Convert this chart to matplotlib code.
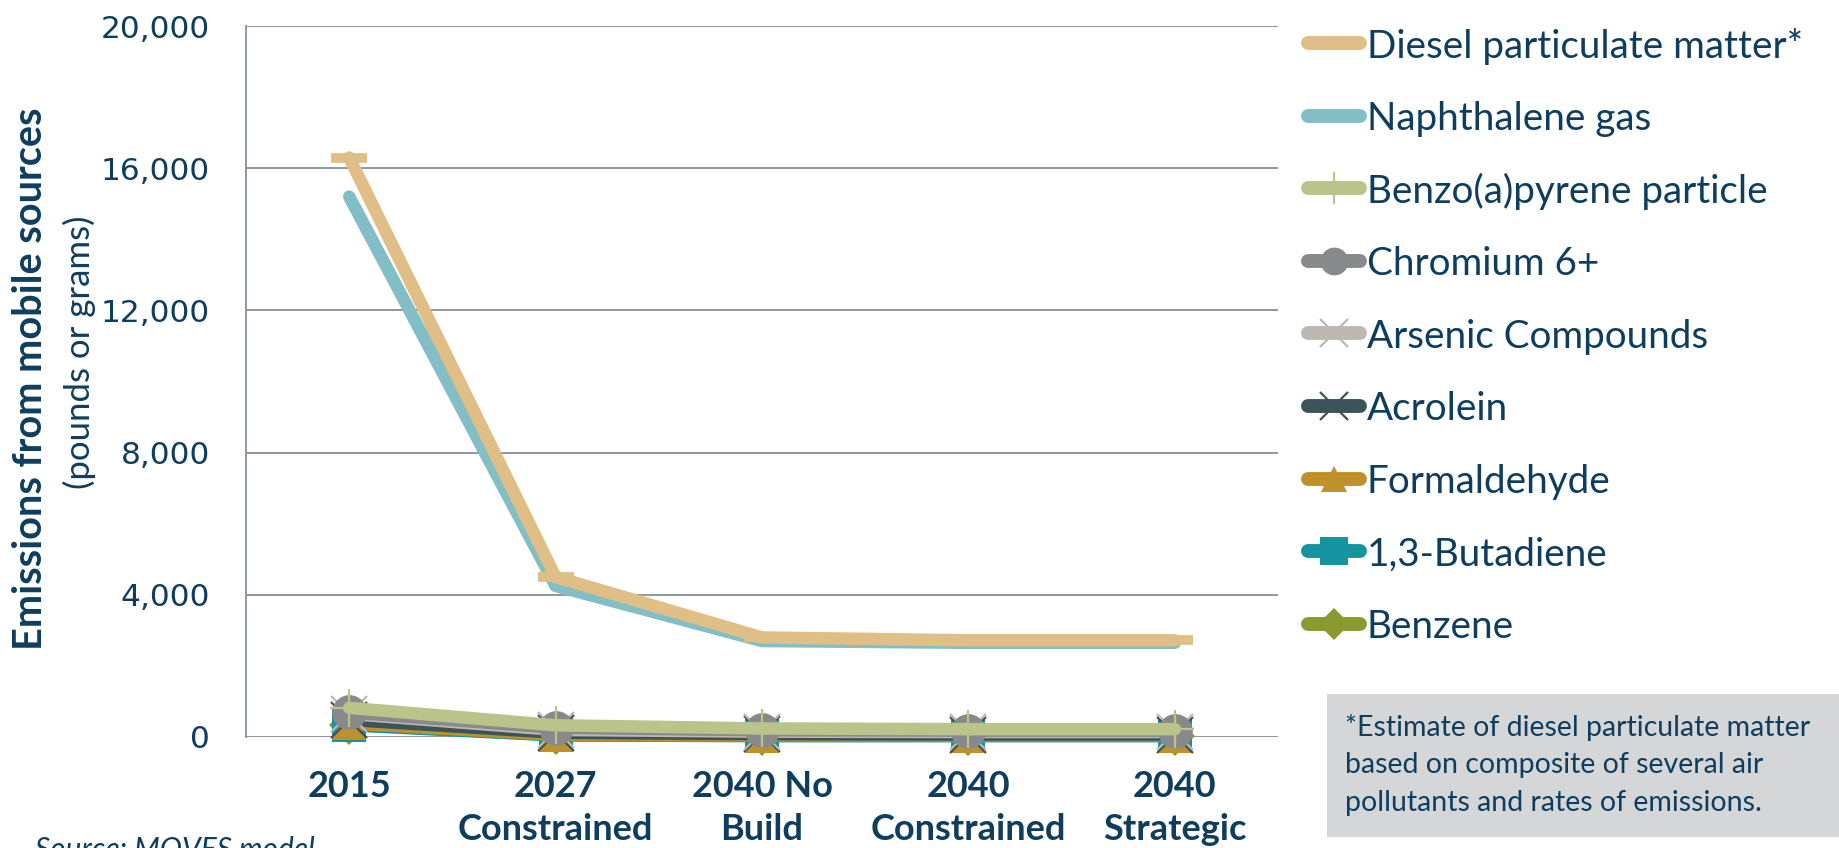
import matplotlib
matplotlib.use("Agg")
import matplotlib.pyplot as plt
from matplotlib.lines import Line2D
from matplotlib.patches import Rectangle

# Scenario categories along the x axis
scenarios = ["2015", "2027\nConstrained", "2040 No\nBuild", "2040\nConstrained", "2040\nStrategic"]

# Emissions by pollutant (pounds or grams)
diesel_pm = [16300, 4500, 2800, 2720, 2720]
naphthalene = [15200, 4250, 2700, 2650, 2650]
benzo_a_pyrene = [820, 330, 240, 220, 220]
chromium_6 = [690, 260, 190, 180, 180]
arsenic = [650, 200, 150, 140, 140]
acrolein = [480, 120, 80, 70, 70]
formaldehyde = [380, 60, 40, 40, 40]
butadiene = [330, 45, 25, 25, 25]
benzene = [350, 50, 30, 30, 30]

y_ticks = [0, 4000, 8000, 12000, 16000, 20000]
y_tick_labels = ["0", "4,000", "8,000", "12,000", "16,000", "20,000"]

NAVY = "#0e3d5e"
GRID = "#8e97a1"
FONT = "Lato"

series = [
    ("Diesel particulate matter*", diesel_pm, "#e0bf86", dict(marker="_", ms=26, mew=7)),
    ("Naphthalene gas", naphthalene, "#82bec6", dict(marker="None")),
    ("Benzo(a)pyrene particle", benzo_a_pyrene, "#b9c38a", dict(marker="+", ms=28, mew=1.6)),
    ("Chromium 6+", chromium_6, "#88898b", dict(marker="o", ms=25, mew=0)),
    ("Arsenic Compounds", arsenic, "#bdb8b1", dict(marker="x", ms=26, mew=1.6)),
    ("Acrolein", acrolein, "#3c535b", dict(marker="x", ms=26, mew=1.6)),
    ("Formaldehyde", formaldehyde, "#bf912b", dict(marker="^", ms=24, mew=0)),
    ("1,3-Butadiene", butadiene, "#15949f", dict(marker="s", ms=25, mew=0)),
    ("Benzene", benzene, "#8b9a2f", dict(marker="D", ms=20, mew=0)),
]

W, H = 1839, 848
fig = plt.figure(figsize=(W / 100, H / 100), dpi=100)
fig.patch.set_facecolor("white")


def fx(px):
    return px / W


def fy(py):
    return 1 - py / H


ax = fig.add_axes([fx(246), fy(737), fx(1278) - fx(246), fy(26) - fy(737)])
x = list(range(len(scenarios)))
n = len(series)
for i, (name, vals, color, mk) in enumerate(series):
    ax.plot(x, vals, color=color, lw=9, solid_capstyle="round", solid_joinstyle="round",
            markerfacecolor=color, markeredgecolor=color, zorder=10 + (n - i), clip_on=False, **mk)

ax.set_xlim(-0.5, len(scenarios) - 0.5)
ax.set_ylim(0, 20000)
ax.set_yticks(y_ticks)
ax.set_yticklabels(y_tick_labels, family="DejaVu Sans", fontsize=22.5, color=NAVY)
ax.set_xticks(x)
ax.set_xticklabels(scenarios, family=FONT, fontweight="bold", fontsize=26, color=NAVY,
                   linespacing=1.35, va="top")
ax.tick_params(axis="y", length=0, pad=26)
ax.tick_params(axis="x", length=0, pad=24)
ax.grid(axis="y", color=GRID, lw=1.4)
ax.set_axisbelow(True)
for side in ("top", "right", "bottom"):
    ax.spines[side].set_visible(False)
ax.spines["left"].set_color(GRID)
ax.spines["left"].set_linewidth(1.4)

# Y axis title
fig.text(fx(31), fy(379), "Emissions from mobile sources", rotation=90, ha="center", va="center",
         family=FONT, fontweight="bold", fontsize=28.5, color=NAVY)
fig.text(fx(79), fy(352), "(pounds or grams)", rotation=90, ha="center", va="center",
         family=FONT, fontsize=25, color=NAVY)

# Legend drawn as line samples with labels
row0, pitch = 43, 72.6
for i, (name, vals, color, mk) in enumerate(series):
    yy = fy(row0 + i * pitch)
    mk_leg = dict(mk)
    if "ms" in mk_leg:
        mk_leg["ms"] = mk_leg["ms"] * 0.8
    ln = Line2D([fx(1308), fx(1360)], [yy, yy], transform=fig.transFigure, color=color, lw=10,
                solid_capstyle="round", zorder=3)
    fig.add_artist(ln)
    mline = Line2D([fx(1334)], [yy], transform=fig.transFigure, color=color, lw=0,
                   markerfacecolor=color, markeredgecolor=color, zorder=4, **mk_leg)
    fig.add_artist(mline)
    fig.text(fx(1367), yy, name, ha="left", va="center_baseline", family=FONT,
             fontsize=27.8, color=NAVY)

# Footnote box
fig.add_artist(Rectangle((fx(1327), fy(837)), fx(W) - fx(1327), fy(694) - fy(837),
                         transform=fig.transFigure, facecolor="#d5d6d8", edgecolor="none"))
for j, line in enumerate(["*Estimate of diesel particulate matter",
                          "based on composite of several air",
                          "pollutants and rates of emissions."]):
    fig.text(fx(1345), fy(725 + j * 37.5), line, ha="left", va="center_baseline",
             family=FONT, fontsize=20.5, color=NAVY)

fig.text(fx(35), fy(836), "Source: MOVES model", ha="left", va="top", family=FONT,
         style="italic", fontsize=21.5, color=NAVY)

fig.savefig("out.png", dpi=100, facecolor="white")
